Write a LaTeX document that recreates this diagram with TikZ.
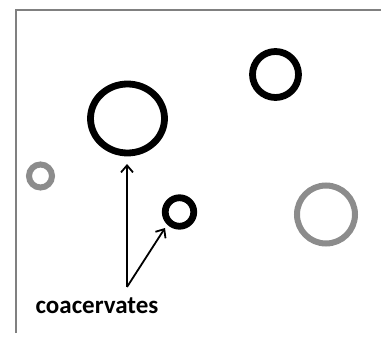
\documentclass[tikz,border=0pt]{standalone}
\usepackage{fontspec}
\setmainfont{Carlito}
\usetikzlibrary{shapes.geometric,arrows.meta}
\begin{document}
\begin{tikzpicture}[x=1pt,y=-1pt,
  blackring/.style={draw=black,line width=6.8pt},
  grayring/.style={draw=black!45,line width=6pt},
  arr/.style={draw=black,line width=1.8pt,-{Straight Barb[length=7pt,width=12pt,line width=1.8pt]}},
  lbl/.style={font=\bfseries\fontsize{25}{29}\selectfont,inner sep=0pt}]
\useasboundingbox (0,0) rectangle (381,337);
\draw[gray,line width=2pt] (16,333) -- (16,10) -- (381,10);
\node[blackring,ellipse,minimum width=74pt,minimum height=69pt,inner sep=0pt] (big) at (127.5,118.5) {};
\node[blackring,circle,minimum size=46pt,inner sep=0pt] (tr) at (275.5,74.5) {};
\node[blackring,circle,minimum size=28.5pt,inner sep=0pt] (sm) at (179.5,212) {};
\node[grayring,circle,minimum size=23pt,inner sep=0pt] (g1) at (40.5,176) {};
\node[grayring,circle,minimum size=58pt,inner sep=0pt] (g2) at (326,214.5) {};
\coordinate (apex) at (127,287);
\coordinate (t1) at (127,164);
\coordinate (t2) at (165,228);
\node[lbl] (label) at (97,306) {coacervates};
\draw[arr] (apex) -- (t1);
\draw[arr] (apex) -- (t2);
\end{tikzpicture}
\end{document}
